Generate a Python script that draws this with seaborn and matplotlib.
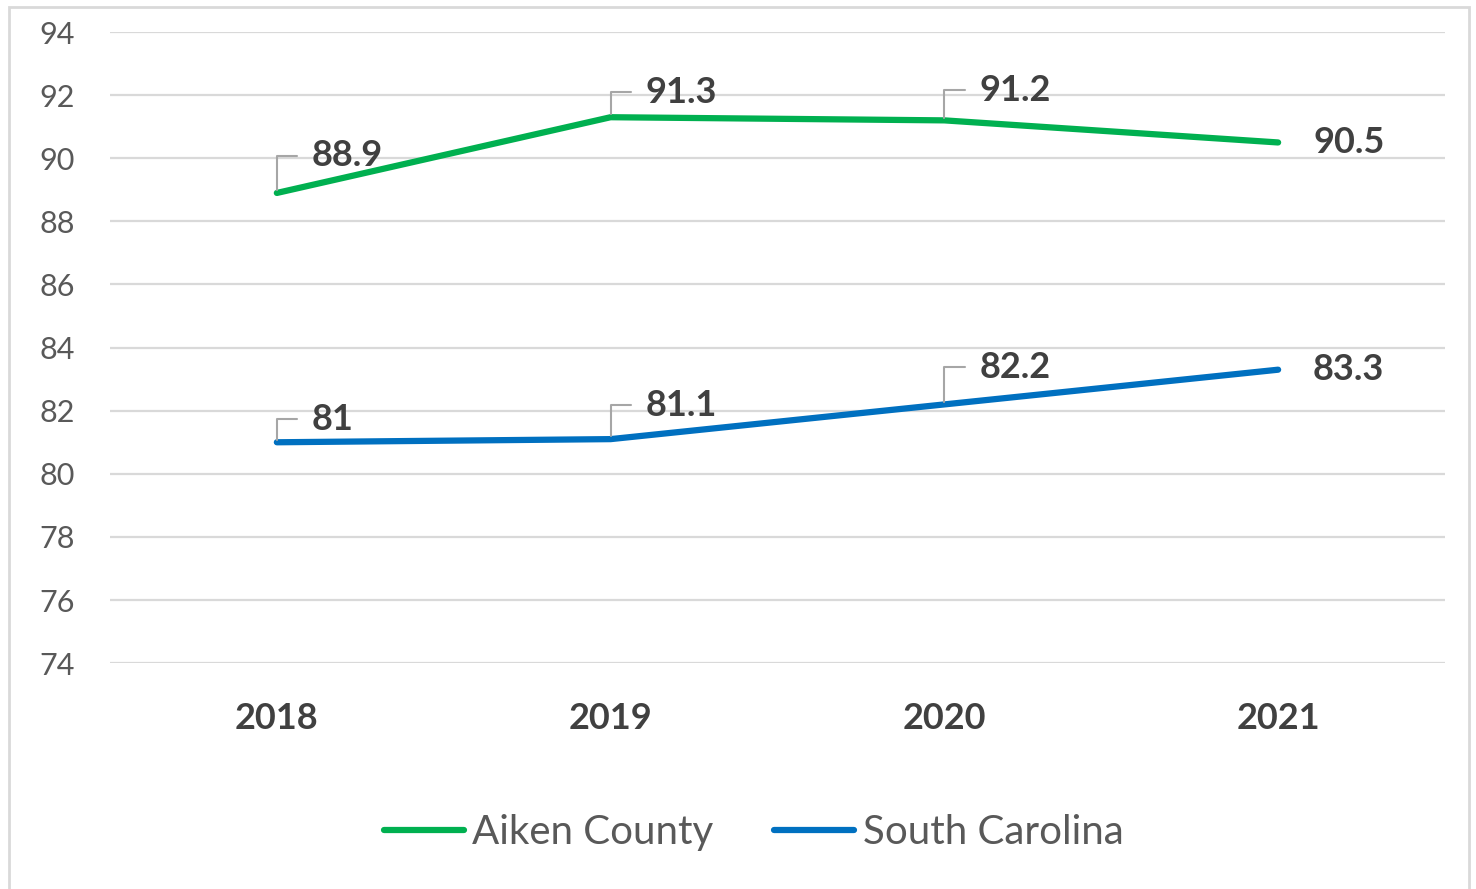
import numpy as np
import pandas as pd
import matplotlib.pyplot as plt
import seaborn as sns
from matplotlib.patches import Rectangle

years = ['2018', '2019', '2020', '2021']
aiken = [88.9, 91.3, 91.2, 90.5]
south_carolina = [81, 81.1, 82.2, 83.3]
series_names = ['Aiken County', 'South Carolina']
colors = ['#00B050', '#0070C0']

# vertical label offsets (pixels) per series, as placed in the original
label_dy = [[37, 25, 30, 0], [23, 34, 37, 0]]

df = pd.DataFrame({
    'pos': list(range(len(years))) * 2,
    'value': aiken + south_carolina,
    'series': [series_names[0]] * len(years) + [series_names[1]] * len(years),
})

sns.set_style('white')
plt.rcParams['font.family'] = ['Lato', 'DejaVu Sans']

fig = plt.figure(figsize=(14.76, 8.89), dpi=100)
ax = fig.add_axes([0.0745, 0.254, 0.9045, 0.71])

sns.lineplot(data=df, x='pos', y='value', hue='series', palette=colors,
             linewidth=4.5, ax=ax, legend=True)

ax.set_xlim(-0.5, 3.5)
ax.set_ylim(74, 94)
ax.set_yticks(np.arange(74, 95, 2))
ax.set_xticks(range(len(years)))
ax.set_xticklabels(years)
ax.tick_params(axis='y', labelsize=22, labelcolor='#595959', length=0, pad=25)
ax.tick_params(axis='x', labelsize=26, labelcolor='#404040', length=0, pad=28)
for lab in ax.get_xticklabels():
    lab.set_fontweight('bold')
ax.set_xlabel('')
ax.set_ylabel('')
ax.grid(axis='y', color='#D9D9D9', linewidth=1.6)
ax.grid(axis='x', visible=False)
for s in ax.spines.values():
    s.set_visible(False)

# data labels
for vals, dys in zip((aiken, south_carolina), label_dy):
    for i, v in enumerate(vals):
        if dys[i] > 0:
            ax.annotate(str(v), xy=(i, v), xytext=(35, dys[i]), textcoords='offset pixels',
                        ha='left', va='center', fontsize=26, fontweight='bold',
                        color='#404040',
                        arrowprops=dict(arrowstyle='-', color='#A6A6A6', lw=1.5,
                                        shrinkA=8, shrinkB=2,
                                        connectionstyle='angle,angleA=0,angleB=90,rad=0'))
        else:
            ax.annotate(str(v), xy=(i, v), xytext=(35, 0), textcoords='offset pixels',
                        ha='left', va='center', fontsize=26, fontweight='bold',
                        color='#404040')

leg = ax.legend(loc='center', bbox_to_anchor=(0.482, -0.268), ncol=2, frameon=False,
                fontsize=29, handlelength=2.0, columnspacing=1.5, handletextpad=0.2)
for t in leg.get_texts():
    t.set_color('#595959')
for h in leg.get_lines():
    h.set_linewidth(4.5)

fig.patches.append(Rectangle((0.006, -0.01), 0.989, 1.002, transform=fig.transFigure,
                             fill=False, edgecolor='#D9D9D9', linewidth=2))

fig.savefig('out.png', dpi=100)
